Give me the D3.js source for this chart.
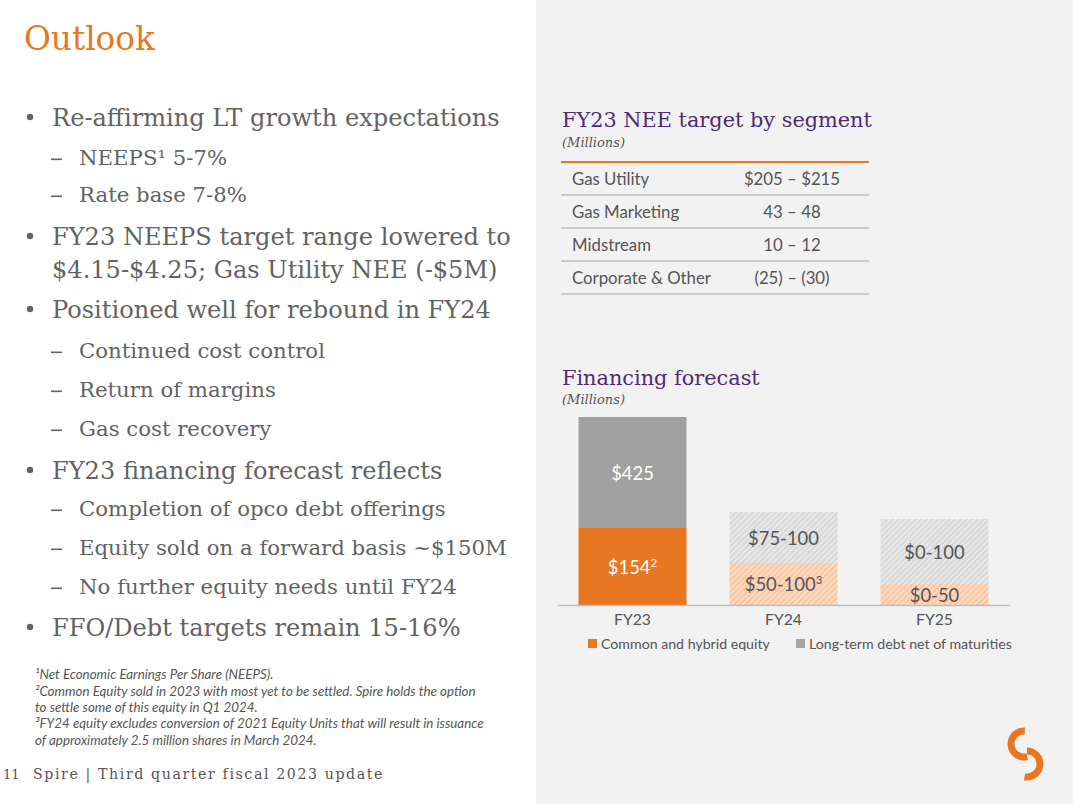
<!DOCTYPE html>
<html>
<head>
<meta charset="utf-8">
<script src="https://cdn.jsdelivr.net/npm/d3@7"></script>
<style>
  html, body { margin: 0; padding: 0; background: #ffffff; }
  svg { display: block; }
</style>
</head>
<body>
<div id="chart"></div>
<script>
// ---------------- DATA ----------------
const categories = ["FY23", "FY24", "FY25"];
// heights of the stacked segments as drawn in the picture (millions, visual scale)
const equityPlot = [154, 84, 42];
const debtPlot = [222, 102, 130];
const equityLabels = ["$154", "$50-100", "$0-50"];
const equitySup = ["2", "3", ""];
const debtLabels = ["$425", "$75-100", "$0-100"];
const isForecast = [false, true, true];
const legendLabels = ["Common and hybrid equity", "Long-term debt net of maturities"];

const segments = ["Gas Utility", "Gas Marketing", "Midstream", "Corporate & Other"];
const segmentRanges = ["$205 \u2013 $215", "43 \u2013 48", "10 \u2013 12", "(25) \u2013 (30)"];

const bulletLevels = [0, 1, 1, 0, 2, 0, 1, 1, 1, 0, 1, 1, 1, 0];
const bulletTexts = [
  "Re-affirming LT growth expectations",
  "NEEPS\u00b9 5-7%",
  "Rate base 7-8%",
  "FY23 NEEPS target range lowered to",
  "$4.15-$4.25; Gas Utility NEE (-$5M)",
  "Positioned well for rebound in FY24",
  "Continued cost control",
  "Return of margins",
  "Gas cost recovery",
  "FY23 financing forecast reflects",
  "Completion of opco debt offerings",
  "Equity sold on a forward basis ~$150M",
  "No further equity needs until FY24",
  "FFO/Debt targets remain 15-16%"
];
const footnotes = [
  "\u00b9Net Economic Earnings Per Share (NEEPS).",
  "\u00b2Common Equity sold in 2023 with most yet to be settled. Spire holds the option",
  "to settle some of this equity in Q1 2024.",
  "\u00b3FY24 equity excludes conversion of 2021 Equity Units that will result in issuance",
  "of approximately 2.5 million shares in March 2024."
];
const pageNumber = "11";
const footerText = "Spire | Third quarter fiscal 2023 update";

// ---------------- LAYOUT ----------------
const W = 1073, H = 804;
const SERIF = "'DejaVu Serif', 'Liberation Serif', serif";
const SANS = "Lato, 'Open Sans', sans-serif";
const ORANGE = "#e87722", GRAY_TXT = "#636363", DARK_TXT = "#555555", PURPLE = "#4f2a75";

const svg = d3.select("#chart").append("svg").attr("width", W).attr("height", H);
const defs = svg.append("defs");

function hatch(id, base, stripe) {
  const p = defs.append("pattern").attr("id", id).attr("patternUnits", "userSpaceOnUse")
    .attr("width", 4).attr("height", 4).attr("patternTransform", "rotate(45)");
  p.append("rect").attr("width", 4).attr("height", 4).attr("fill", base);
  p.append("rect").attr("x", 0).attr("width", 1.3).attr("height", 4).attr("fill", stripe);
}
hatch("hatchGray", "#d8d8d8", "#f0f0f0");
hatch("hatchPeach", "#f9c7a3", "#fde4d2");

svg.append("rect").attr("width", W).attr("height", H).attr("fill", "#ffffff");
svg.append("rect").attr("x", 536).attr("y", 0).attr("width", W - 536).attr("height", H).attr("fill", "#f2f2f2");

// fit helper: scale font-size so the reference element reaches target width
function fitSize(sel, target) {
  const s = parseFloat(sel.attr("font-size"));
  const w = sel.node().getComputedTextLength();
  return s * target / w;
}

// Title
const title = svg.append("text").attr("x", 24).attr("y", 50).attr("font-family", SERIF)
  .attr("font-size", 36).attr("fill", ORANGE).text("Outlook");
title.attr("font-size", fitSize(title, 131));

// Bullets
const bulletBaselines = [126, 165, 202, 245, 278, 318, 358, 397, 436, 479, 516, 555, 594, 636];
const bl = svg.append("g").attr("font-family", SERIF).attr("fill", GRAY_TXT);
const bTexts = bl.selectAll("text.b").data(bulletTexts).join("text").attr("class", "b")
  .attr("x", (d, i) => bulletLevels[i] === 1 ? 79 : 52)
  .attr("y", (d, i) => bulletBaselines[i])
  .attr("font-size", (d, i) => bulletLevels[i] === 1 ? 22 : 26)
  .text(d => d);
const mainSize = fitSize(bTexts.filter((d, i) => i === 0), 448);
const subSize = fitSize(bTexts.filter((d, i) => i === 10), 367);
bTexts.attr("font-size", (d, i) => bulletLevels[i] === 1 ? subSize : mainSize);
const markers = bulletLevels.map((l, i) => [l, i]).filter(d => d[0] !== 2);
bl.selectAll("circle.m").data(markers.filter(d => d[0] === 0)).join("circle")
  .attr("class", "m")
  .attr("cx", 30).attr("cy", d => bulletBaselines[d[1]] - 9).attr("r", 3.2);
bl.selectAll("rect.m").data(markers.filter(d => d[0] === 1)).join("rect")
  .attr("class", "m")
  .attr("x", 51).attr("y", d => bulletBaselines[d[1]] - 6.5).attr("width", 11).attr("height", 1.6);

// Footnotes
const fnBaselines = [679, 696, 712, 728, 745];
const fn = svg.append("g").attr("font-family", SANS).attr("font-style", "italic").attr("fill", DARK_TXT);
const fnT = fn.selectAll("text").data(footnotes).join("text")
  .attr("x", 35).attr("y", (d, i) => fnBaselines[i]).attr("font-size", 12).text(d => d);
fnT.attr("font-size", fitSize(fnT.filter((d, i) => i === 1), 441));

// Footer
svg.append("text").attr("x", 3).attr("y", 779).attr("font-family", SERIF).attr("font-size", 13)
  .attr("fill", DARK_TXT).text(pageNumber);
const ft = svg.append("text").attr("x", 33).attr("y", 779).attr("font-family", SERIF)
  .attr("font-size", 14).attr("letter-spacing", 1.6).attr("fill", DARK_TXT).text(footerText);
ft.attr("font-size", fitSize(ft, 352));

// Table heading
const h1 = svg.append("text").attr("x", 562).attr("y", 127).attr("font-family", SERIF)
  .attr("font-size", 22).attr("fill", PURPLE).text("FY23 NEE target by segment");
const headSize = fitSize(h1, 310);
h1.attr("font-size", headSize);
svg.append("text").attr("x", 562).attr("y", 147).attr("font-family", SERIF).attr("font-style", "italic")
  .attr("font-size", 13).attr("fill", DARK_TXT).text("(Millions)");

// Table
svg.append("line").attr("x1", 561).attr("x2", 869).attr("y1", 162).attr("y2", 162)
  .attr("stroke", ORANGE).attr("stroke-width", 2);
const rowY = d3.scaleBand().domain(segments).range([162, 294]);
const tbl = svg.append("g").attr("font-family", SANS).attr("fill", DARK_TXT);
const c1 = tbl.selectAll("text.c1").data(segments).join("text").attr("class", "c1")
  .attr("x", 572).attr("y", d => rowY(d) + rowY.bandwidth() / 2 + 6).attr("font-size", 16).text(d => d);
const tblSize = fitSize(c1.filter(d => d === "Corporate & Other"), 139);
c1.attr("font-size", tblSize);
tbl.selectAll("text.c2").data(segmentRanges).join("text").attr("class", "c2")
  .attr("x", 792).attr("text-anchor", "middle")
  .attr("y", (d, i) => rowY(segments[i]) + rowY.bandwidth() / 2 + 6).attr("font-size", tblSize).text(d => d);
svg.selectAll("line.sep").data(segments).join("line").attr("class", "sep")
  .attr("x1", 561).attr("x2", 869)
  .attr("y1", d => rowY(d) + rowY.bandwidth()).attr("y2", d => rowY(d) + rowY.bandwidth())
  .attr("stroke", "#bfbfbf").attr("stroke-width", 1.5);

// Chart heading
svg.append("text").attr("x", 562).attr("y", 385).attr("font-family", SERIF)
  .attr("font-size", headSize).attr("fill", PURPLE).text("Financing forecast");
svg.append("text").attr("x", 562).attr("y", 404).attr("font-family", SERIF).attr("font-style", "italic")
  .attr("font-size", 13).attr("fill", DARK_TXT).text("(Millions)");

// Chart
const x = d3.scaleBand().domain(categories).range([557, 1010]).paddingInner(0.285).paddingOuter(0.1425);
const y = d3.scaleLinear().domain([0, 400]).range([605, 405]);

const bars = svg.append("g");
categories.forEach((c, i) => {
  const e0 = y(0), e1 = y(equityPlot[i]), d1 = y(equityPlot[i] + debtPlot[i]);
  bars.append("rect").attr("x", x(c)).attr("width", x.bandwidth())
    .attr("y", e1).attr("height", e0 - e1)
    .attr("fill", isForecast[i] ? "url(#hatchPeach)" : ORANGE);
  bars.append("rect").attr("x", x(c)).attr("width", x.bandwidth())
    .attr("y", d1).attr("height", e1 - d1)
    .attr("fill", isForecast[i] ? "url(#hatchGray)" : "#a0a0a0");
});

const lab = svg.append("g").attr("font-family", SANS).attr("text-anchor", "middle");
const dl = lab.selectAll("text.dl").data(categories).join("text").attr("class", "dl")
  .attr("x", d => x(d) + x.bandwidth() / 2)
  .attr("y", (d, i) => (y(equityPlot[i]) + y(equityPlot[i] + debtPlot[i])) / 2 + 7)
  .attr("font-size", 20)
  .attr("fill", (d, i) => isForecast[i] ? DARK_TXT : "#ffffff")
  .text((d, i) => debtLabels[i]);
const labSize = fitSize(dl.filter(d => d === "FY24"), 71);
dl.attr("font-size", labSize);
const el = lab.selectAll("text.el").data(categories).join("text").attr("class", "el")
  .attr("x", d => x(d) + x.bandwidth() / 2)
  .attr("y", (d, i) => (y(0) + y(equityPlot[i])) / 2 + 7)
  .attr("font-size", labSize)
  .attr("fill", (d, i) => isForecast[i] ? DARK_TXT : "#ffffff");
el.append("tspan").text((d, i) => equityLabels[i]);
el.append("tspan").attr("dy", -7).attr("font-size", labSize * 0.62).text((d, i) => equitySup[i]);

// Axis
const ax = svg.append("g").attr("transform", `translate(0,${y(0)})`)
  .call(d3.axisBottom(x).tickSize(0).tickSizeOuter(0).tickPadding(9));
ax.select(".domain").attr("stroke", "#bfbfbf").attr("stroke-width", 1.5);
ax.selectAll("text").attr("font-family", SANS).attr("font-size", 15).attr("fill", DARK_TXT);
const axSize = fitSize(ax.select("text"), 37);
ax.selectAll("text").attr("font-size", axSize);

// Legend
const legX = [588, 796];
const legColors = [ORANGE, "#a5a5a5"];
const lg = svg.append("g");
lg.selectAll("rect").data(legendLabels).join("rect")
  .attr("x", (d, i) => legX[i]).attr("y", 639).attr("width", 9).attr("height", 9)
  .attr("fill", (d, i) => legColors[i]);
const lt = lg.selectAll("text").data(legendLabels).join("text")
  .attr("x", (d, i) => legX[i] + 13).attr("y", 649)
  .attr("font-family", SANS).attr("font-size", 13).attr("fill", DARK_TXT).text(d => d);
lt.attr("font-size", fitSize(lt.filter((d, i) => i === 1), 203));

// Logo
const arc = d3.arc();
svg.append("path").attr("transform", "translate(1024,744)")
  .attr("d", arc({innerRadius: 9.5, outerRadius: 16.5, startAngle: -1.08 * Math.PI, endAngle: 0.02 * Math.PI}))
  .attr("fill", ORANGE);
svg.append("path").attr("transform", "translate(1027,764)")
  .attr("d", arc({innerRadius: 9.5, outerRadius: 16.5, startAngle: 0.0 * Math.PI, endAngle: 1.06 * Math.PI}))
  .attr("fill", ORANGE);
</script>
</body>
</html>
